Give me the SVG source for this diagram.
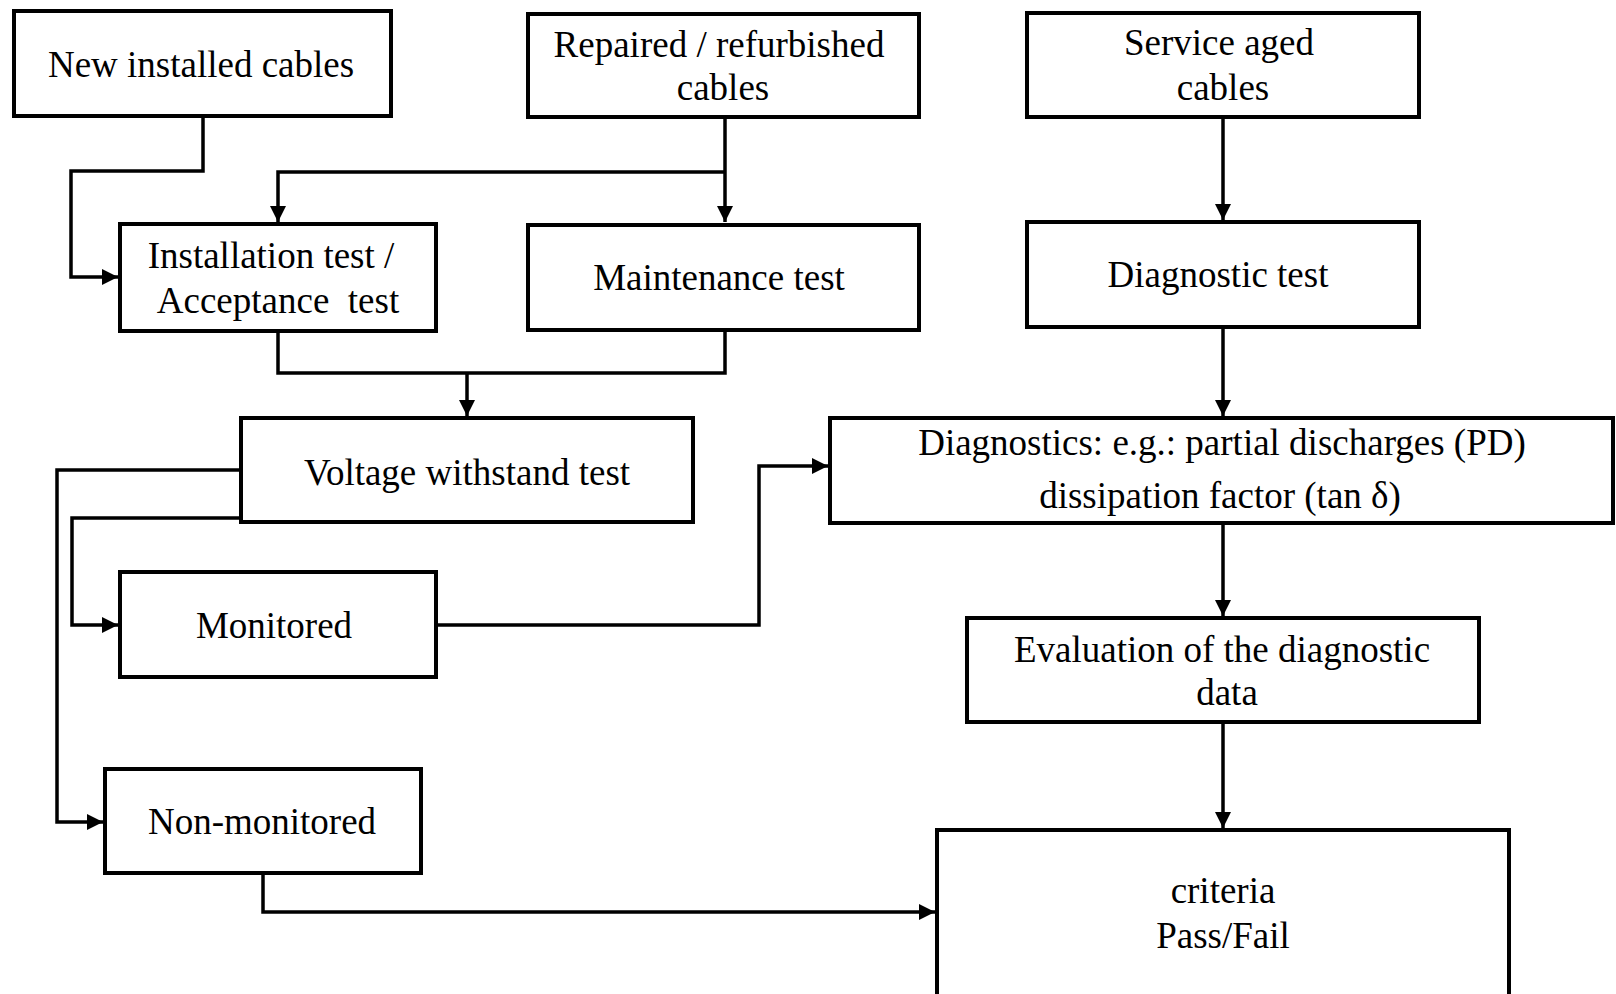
<svg xmlns="http://www.w3.org/2000/svg" width="1616" height="994" viewBox="0 0 1616 994">
<style>
.box{fill:#fff;stroke:#000;stroke-width:4}
.t{font-family:"Liberation Serif","Times New Roman",serif;font-size:37px;fill:#000;text-anchor:middle;white-space:pre}
.c{fill:none;stroke:#000;stroke-width:3.5}
</style>
<defs>
<marker id="ah" markerUnits="userSpaceOnUse" markerWidth="17" markerHeight="16" refX="16" refY="8" orient="auto" overflow="visible">
<path d="M0,0 L16,8 L0,16 z" fill="#000"/>
</marker>
</defs>
<rect width="1616" height="994" fill="#fff"/>
<g id="connectors">
<path class="c" d="M203,116 V171 H71 V277 H118" marker-end="url(#ah)"/>
<path class="c" d="M725,117 V222" marker-end="url(#ah)"/>
<path class="c" d="M725,172 H278 V222" marker-end="url(#ah)"/>
<path class="c" d="M278,331 V373 H725 V330"/>
<path class="c" d="M467,373 V416" marker-end="url(#ah)"/>
<path class="c" d="M1223,117 V220" marker-end="url(#ah)"/>
<path class="c" d="M1223,327 V416" marker-end="url(#ah)"/>
<path class="c" d="M241,470 H57 V822 H103" marker-end="url(#ah)"/>
<path class="c" d="M241,518 H72 V625 H118" marker-end="url(#ah)"/>
<path class="c" d="M436,625 H759 V466 H828" marker-end="url(#ah)"/>
<path class="c" d="M1223,523 V616" marker-end="url(#ah)"/>
<path class="c" d="M1223,722 V828" marker-end="url(#ah)"/>
<path class="c" d="M263,873 V912 H935" marker-end="url(#ah)"/>
</g>
<g id="new">
<rect class="box" x="14" y="11" width="377" height="105"/>
<text class="t" x="201" y="77">New installed cables</text>
</g>
<g id="repaired">
<rect class="box" x="528" y="14" width="391" height="103"/>
<text class="t" x="719" y="57">Repaired / refurbished</text>
<text class="t" x="723" y="100">cables</text>
</g>
<g id="service">
<rect class="box" x="1027" y="13" width="392" height="104"/>
<text class="t" x="1219" y="55">Service aged</text>
<text class="t" x="1223" y="100">cables</text>
</g>
<g id="installation">
<rect class="box" x="120" y="224" width="316" height="107"/>
<text class="t" x="271" y="268">Installation test /</text>
<text class="t" x="278" y="313" xml:space="preserve">Acceptance  test</text>
</g>
<g id="maintenance">
<rect class="box" x="528" y="225" width="391" height="105"/>
<text class="t" x="719" y="290">Maintenance test</text>
</g>
<g id="diagnostic-test">
<rect class="box" x="1027" y="222" width="392" height="105"/>
<text class="t" x="1218" y="287">Diagnostic test</text>
</g>
<g id="voltage">
<rect class="box" x="241" y="418" width="452" height="104"/>
<text class="t" x="467" y="485">Voltage withstand test</text>
</g>
<g id="diagnostics">
<rect class="box" x="830" y="418" width="783" height="105"/>
<text class="t" x="1222" y="455">Diagnostics: e.g.: partial discharges (PD)</text>
<text class="t" x="1220" y="508">dissipation factor (tan δ)</text>
</g>
<g id="monitored">
<rect class="box" x="120" y="572" width="316" height="105"/>
<text class="t" x="274" y="638">Monitored</text>
</g>
<g id="evaluation">
<rect class="box" x="967" y="618" width="512" height="104"/>
<text class="t" x="1222" y="662">Evaluation of the diagnostic</text>
<text class="t" x="1227" y="705">data</text>
</g>
<g id="non-monitored">
<rect class="box" x="105" y="769" width="316" height="104"/>
<text class="t" x="262" y="834">Non-monitored</text>
</g>
<g id="criteria">
<rect class="box" x="937" y="830" width="572" height="200"/>
<text class="t" x="1223" y="903">criteria</text>
<text class="t" x="1223" y="948">Pass/Fail</text>
</g>
</svg>
